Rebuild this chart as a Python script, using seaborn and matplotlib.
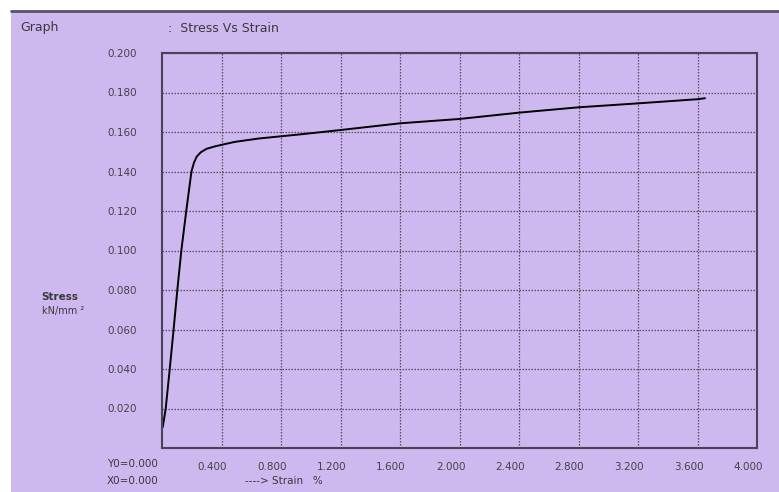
import numpy as np
import pandas as pd
import matplotlib
matplotlib.use("Agg")
import matplotlib.pyplot as plt
import matplotlib.transforms as mtransforms
import seaborn as sns

# ---------------------------
# Data
# ---------------------------
strain = [0.005, 0.025, 0.052, 0.078, 0.103, 0.130, 0.163, 0.198, 0.215, 0.233,
          0.26, 0.30, 0.35, 0.40, 0.49, 0.65, 0.93, 1.2, 1.6, 2.0,
          2.4, 2.8, 3.2, 3.6, 3.65]
stress = [0.0106, 0.020, 0.040, 0.060, 0.080, 0.100, 0.120, 0.140, 0.1445, 0.1475,
          0.1497, 0.1515, 0.1526, 0.1535, 0.155, 0.1567, 0.1588, 0.161, 0.1644, 0.1666,
          0.1698, 0.1725, 0.1745, 0.1766, 0.1771]
x_ticks = [0.4, 0.8, 1.2, 1.6, 2.0, 2.4, 2.8, 3.2, 3.6, 4.0]
y_ticks = [0.02, 0.04, 0.06, 0.08, 0.10, 0.12, 0.14, 0.16, 0.18, 0.20]

BG = "#cdb8ef"
TXT = "#3a3a3a"

sns.set_style("white")
plt.rcParams["font.family"] = ["DejaVu Sans"]

df = pd.DataFrame({"strain": strain, "stress": stress})

fig = plt.figure(figsize=(7.79, 4.92), dpi=100)
fig.patch.set_facecolor("white")

# purple panel with dark top border
fig.patches.append(plt.Rectangle((11 / 779, 0), 1, 1 - 11 / 492, transform=fig.transFigure,
                                 facecolor=BG, edgecolor="none", zorder=-2))
fig.add_artist(plt.Line2D([11 / 779, 1], [1 - 11 / 492, 1 - 11 / 492], transform=fig.transFigure,
                          color="#5a5070", linewidth=2.0))

ax = fig.add_axes([162 / 779, 1 - 448 / 492, 595 / 779, 395 / 492])
ax.set_facecolor(BG)

sns.lineplot(data=df, x="strain", y="stress", color="black", linewidth=1.4,
             sort=False, estimator=None, ax=ax)

ax.set_xlim(0, 4.0)
ax.set_ylim(0, 0.2)
ax.set_xticks(x_ticks)
ax.set_yticks(y_ticks)
ax.set_xticklabels([f"{v:.3f}" for v in x_ticks])
ax.set_yticklabels([f"{v:.3f}" for v in y_ticks])
ax.set_xlabel("")
ax.set_ylabel("")
ax.grid(True, linestyle=(0, (1.2, 1.2)), color="#555060", linewidth=0.9)
ax.tick_params(direction="in", length=4, width=1.2, colors="#4a4458",
               labelcolor="#444444", labelsize=7.5, pad=10)
ax.tick_params(axis="y", pad=18)
for s in ax.spines.values():
    s.set_color("#4a4458")
    s.set_linewidth(1.5)

# x labels sit a little left of their ticks in the original
shift = mtransforms.ScaledTranslation(-0.09, 0, fig.dpi_scale_trans)
for lab in ax.get_xticklabels():
    lab.set_transform(lab.get_transform() + shift)

# header and side texts
fig.text(20 / 779, 1 - 28 / 492, "Graph", fontsize=9, color=TXT, va="center")
fig.text(168 / 779, 1 - 28 / 492, ":  Stress Vs Strain", fontsize=9, color=TXT, va="center")
fig.text(41 / 779, 1 - 297 / 492, "Stress", fontsize=7.5, color=TXT, va="center", fontweight="bold")
fig.text(42 / 779, 1 - 311 / 492, "kN/mm ²", fontsize=7, color=TXT, va="center")
fig.text(107 / 779, 1 - 464 / 492, "Y0=0.000", fontsize=7.5, color=TXT, va="center")
fig.text(107 / 779, 1 - 481 / 492, "X0=0.000", fontsize=7.5, color=TXT, va="center")
fig.text(245 / 779, 1 - 481 / 492, "----> Strain   %", fontsize=7.5, color=TXT, va="center")

fig.savefig("out.png", dpi=100, facecolor=fig.get_facecolor())
